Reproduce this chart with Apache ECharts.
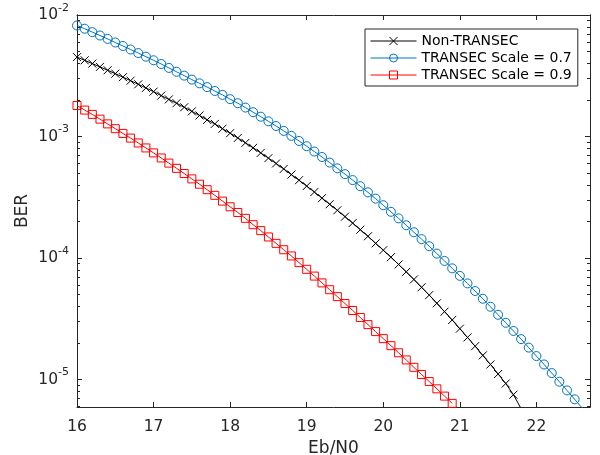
<!DOCTYPE html>
<html><head><meta charset="utf-8">
<script src="https://cdn.jsdelivr.net/npm/echarts@6/dist/echarts.min.js"></script>
<style>html,body{margin:0;padding:0;background:#fff}#c{width:600px;height:455px}</style>
</head><body><div id="c"></div>
<script>
// Eb/N0 sample points (dB)
const ebn0 = [16.0,16.1,16.2,16.3,16.4,16.5,16.6,16.7,16.8,16.9,
  17.0,17.1,17.2,17.3,17.4,17.5,17.6,17.7,17.8,17.9,
  18.0,18.1,18.2,18.3,18.4,18.5,18.6,18.7,18.8,18.9,
  19.0,19.1,19.2,19.3,19.4,19.5,19.6,19.7,19.8,19.9,
  20.0,20.1,20.2,20.3,20.4,20.5,20.6,20.7,20.8,20.9,
  21.0,21.1,21.2,21.3,21.4,21.5,21.6,21.7,21.8,21.9,
  22.0,22.1,22.2,22.3,22.4,22.5,22.6];

const berNonTransec = [4.50e-3,4.24e-3,3.98e-3,3.74e-3,3.51e-3,3.29e-3,3.08e-3,2.88e-3,2.69e-3,2.51e-3,
  2.34e-3,2.17e-3,2.02e-3,1.88e-3,1.74e-3,1.61e-3,1.49e-3,1.37e-3,1.27e-3,1.16e-3,
  1.065e-3,9.73e-4,8.87e-4,8.07e-4,7.33e-4,6.64e-4,6.00e-4,5.41e-4,4.86e-4,4.37e-4,
  3.91e-4,3.49e-4,3.11e-4,2.77e-4,2.47e-4,2.19e-4,1.94e-4,1.71e-4,1.51e-4,1.32e-4,
  1.16e-4,1.016e-4,8.85e-5,7.69e-5,6.66e-5,5.74e-5,4.95e-5,4.24e-5,3.62e-5,3.09e-5,
  2.62e-5,2.22e-5,1.88e-5,1.58e-5,1.33e-5,1.11e-5,9.27e-6,7.50e-6,5.76e-6];

const berScale07 = [8.20e-3,7.71e-3,7.23e-3,6.78e-3,6.36e-3,5.94e-3,5.56e-3,5.20e-3,4.86e-3,4.54e-3,
  4.24e-3,3.95e-3,3.67e-3,3.41e-3,3.17e-3,2.94e-3,2.74e-3,2.55e-3,2.37e-3,2.20e-3,
  2.03e-3,1.88e-3,1.73e-3,1.585e-3,1.456e-3,1.334e-3,1.22e-3,1.112e-3,1.012e-3,9.19e-4,
  8.32e-4,7.52e-4,6.78e-4,6.10e-4,5.47e-4,4.90e-4,4.38e-4,3.90e-4,3.47e-4,3.08e-4,
  2.72e-4,2.40e-4,2.12e-4,1.86e-4,1.63e-4,1.43e-4,1.25e-4,1.087e-4,9.46e-5,8.22e-5,
  7.13e-5,6.18e-5,5.35e-5,4.62e-5,3.97e-5,3.41e-5,2.93e-5,2.51e-5,2.15e-5,1.83e-5,
  1.56e-5,1.33e-5,1.13e-5,9.59e-6,8.13e-6,6.87e-6,5.80e-6];

const berScale09 = [1.80e-3,1.65e-3,1.52e-3,1.39e-3,1.27e-3,1.16e-3,1.06e-3,9.70e-4,8.85e-4,8.05e-4,
  7.33e-4,6.66e-4,6.04e-4,5.47e-4,4.96e-4,4.48e-4,4.05e-4,3.65e-4,3.28e-4,2.94e-4,
  2.64e-4,2.37e-4,2.12e-4,1.88e-4,1.68e-4,1.49e-4,1.32e-4,1.17e-4,1.04e-4,9.16e-5,
  8.07e-5,7.10e-5,6.24e-5,5.48e-5,4.81e-5,4.22e-5,3.70e-5,3.24e-5,2.83e-5,2.48e-5,
  2.17e-5,1.90e-5,1.66e-5,1.45e-5,1.26e-5,1.10e-5,9.62e-6,8.38e-6,7.30e-6,6.36e-6];

const seriesNames = ['Non-TRANSEC', 'TRANSEC Scale = 0.7', 'TRANSEC Scale = 0.9'];
const xTicks = [16, 17, 18, 19, 20, 21, 22];
const yDecades = [-5, -4, -3, -2];   // exponents of 10
const xMin = 16, xMax = 22.7;
const berMin = 5.94e-6, berMax = 1e-2;

const yMin = Math.log10(berMin), yMax = Math.log10(berMax);
const minorTicks = [];
for (let e = -6; e <= -3; e++) {
  for (let k = 2; k <= 9; k++) {
    const v = e + Math.log10(k);
    if (v > yMin && v < yMax) minorTicks.push(v);
  }
}
function toPts(ber) { return ber.map((b, i) => [ebn0[i], Math.log10(b)]); }

const axisColor = '#262626';
const font = 'DejaVu Sans';

function yAxis(pos, ticks, len, labels) {
  return {
    type: 'value', position: pos, min: yMin, max: yMax,
    axisLine: { show: true, onZero: false, lineStyle: { color: axisColor, width: 1 } },
    axisTick: { show: true, inside: true, length: len, customValues: ticks, lineStyle: { color: axisColor, width: 1 } },
    axisLabel: labels ? {
      show: true, customValues: yDecades, margin: 8, color: axisColor,
      formatter: v => '{b|10}{s|' + Math.round(v) + '}',
      rich: {
        b: { fontFamily: font, fontSize: 15.5, color: axisColor },
        s: { fontFamily: font, fontSize: 11, color: axisColor, padding: [0, 0, 14, 0] }
      }
    } : { show: false },
    splitLine: { show: false },
    name: labels ? 'BER' : '',
    nameLocation: 'middle', nameGap: 46, nameMoveOverlap: false,
    nameTextStyle: { fontFamily: font, fontSize: 17, color: axisColor }
  };
}
function xAxis(pos, labels) {
  return {
    type: 'value', position: pos, min: xMin, max: xMax,
    axisLine: { show: true, onZero: false, lineStyle: { color: axisColor, width: 1 } },
    axisTick: { show: true, inside: true, length: 5, customValues: xTicks, lineStyle: { color: axisColor, width: 1 } },
    axisLabel: labels ? { show: true, customValues: xTicks, margin: 12, color: axisColor, fontFamily: font, fontSize: 15.5 } : { show: false },
    splitLine: { show: false },
    name: labels ? 'Eb/N0' : '',
    nameLocation: 'middle', nameGap: 33,
    nameTextStyle: { fontFamily: font, fontSize: 17, color: axisColor }
  };
}

function lineSeries(name, ber, color, symbol, size) {
  return {
    name, type: 'line', data: toPts(ber), xAxisIndex: 0, yAxisIndex: 0,
    symbol, symbolSize: size, showAllSymbol: true, clip: true,
    lineStyle: { color, width: 1 },
    itemStyle: { color: 'rgba(0,0,0,0)', borderColor: color, borderWidth: 1 },
    emphasis: { disabled: true }, silent: true
  };
}

const chart = echarts.init(document.getElementById('c'), null, { renderer: 'canvas' });
chart.setOption({
  animation: false,
  backgroundColor: '#fff',
  grid: { left: 77, right: 10, top: 15, bottom: 48, containLabel: false, outerBoundsMode: 'none' },
  xAxis: [xAxis('bottom', true), xAxis('top', false)],
  yAxis: [yAxis('left', yDecades, 5, true), yAxis('left', minorTicks, 3, false),
          yAxis('right', yDecades, 5, false), yAxis('right', minorTicks, 3, false)],
  legend: {
    orient: 'vertical', left: 365, top: 29,
    data: seriesNames,
    itemWidth: 46, itemHeight: 10, itemGap: 3,
    padding: [5, 6, 4, 5],
    borderColor: axisColor, borderWidth: 1, backgroundColor: '#fff',
    lineStyle: { width: 1 },
    itemStyle: { borderWidth: 1 },
    textStyle: { fontFamily: font, fontSize: 14, color: '#000' }
  },
  series: [
    lineSeries(seriesNames[0], berNonTransec, '#000000', 'path://M0 0L10 10M10 0L0 10', 8),
    lineSeries(seriesNames[1], berScale07, '#0072BD', 'circle', 9),
    lineSeries(seriesNames[2], berScale09, '#FF0000', 'rect', 8)
  ]
});
</script></body></html>
